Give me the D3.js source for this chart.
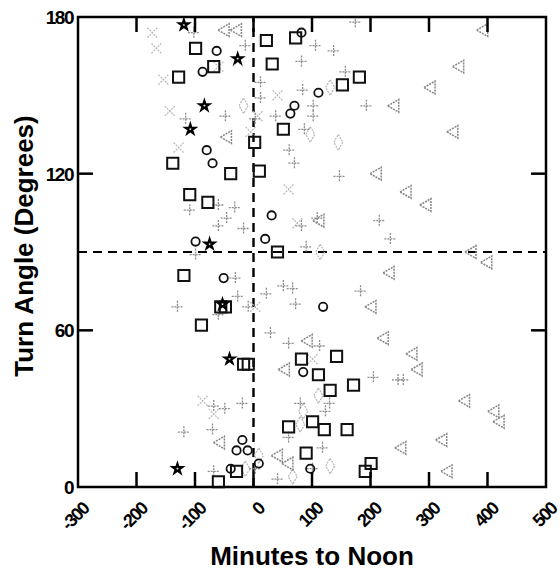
<!DOCTYPE html>
<html>
<head>
<meta charset="utf-8">
<script src="https://cdn.jsdelivr.net/npm/d3@7"></script>
<style>
  body { margin: 0; background: #fff; }
  text { font-family: "Liberation Sans", Arial, sans-serif; font-weight: bold; fill: #000; }
</style>
</head>
<body>
<script>
// chart size
var w = 560, h = 577;
var margin = { left: 78, right: 14, top: 17, bottom: 90 };

// axis ticks
var xTicks = [-300, -200, -100, 0, 100, 200, 300, 400, 500];
var yTicks = [0, 60, 120, 180];

// series values [minutes, degrees]
var squares = [[22,171],[32,162],[72,172],[152,154],[181,157],[51,137],[-99,168],[-68,161],[-128,157],
  [-138,124],[-39,120],[2,132],[10,121],[-109,112],[-78,109],[41,90],[-119,81],[-89,62],[-56,69],[-48,69],
  [-17,47],[-9,47],[-60,2],[-29,6],[82,49],[142,50],[111,43],[171,39],[131,37],[60,23],[101,25],[121,22],
  [160,22],[90,13],[201,9],[191,6]];
var circles = [[-87,159],[-63,167],[82,174],[111,151],[63,143],[70,146],[-80,129],[-70,124],[-99,94],
  [20,95],[31,104],[-51,80],[119,69],[-19,18],[-29,14],[-10,14],[-39,7],[97,7],[9,9],[85,44]];
var stars = [[-119,177],[-27,164],[-84,146],[-108,137],[-75,93],[-41,49],[-130,7],[-53,70]];
var triangles = [[394,175],[353,161],[304,153],[242,146],[343,136],[212,120],[263,113],[297,108],[374,90],
  [401,86],[234,82],[203,69],[224,57],[94,56],[273,51],[282,45],[363,33],[413,29],[422,25],[324,18],
  [254,15],[333,6],[55,45],[61,9],[-56,17],[43,12],[-48,175],[-27,175],[-44,134],[114,102]];
var pluses = [[174,178],[106,169],[137,167],[82,163],[157,159],[84,152],[102,146],[102,142],[193,146],
  [61,129],[70,124],[147,119],[87,137],[215,102],[234,95],[82,100],[109,103],[90,92],[183,75],[72,70],
  [51,77],[67,76],[60,55],[113,54],[38,142],[12,155],[12,149],[3,141],[-102,174],[-116,141],[-48,142],
  [-14,169],[-109,106],[-60,108],[-32,107],[-46,103],[-60,100],[-17,99],[-99,89],[-31,80],[-27,73],
  [-130,69],[-60,66],[-9,69],[22,74],[29,59],[-68,31],[-49,30],[-19,32],[-119,21],[-70,22],[-68,6],
  [3,7],[41,3],[118,15],[205,42],[247,41],[256,41],[130,32],[123,29],[80,32],[60,19],[101,7]];
var crosses = [[-173,174],[-166,168],[-154,156],[-143,144],[-128,130],[-60,161],[-27,163],[41,150],
  [60,114],[101,49],[7,142],[3,69],[-87,33],[-68,28],[75,101],[-5,136]];
var diamonds = [[131,153],[114,90],[145,132],[97,135],[111,35],[80,24],[131,8],[85,29],[67,4],
  [-14,7],[-17,146],[9,12]];

var svg = d3.select("body").append("svg")
  .attr("width", w)
  .attr("height", h);

var x = d3.scaleLinear().domain([-300, 500]).range([margin.left, w - margin.right]);
var y = d3.scaleLinear().domain([0, 180]).range([h - margin.bottom, margin.top]);

// reference lines at noon and 90 degrees
svg.append("line")
  .attr("x1", x(-300)).attr("x2", x(500))
  .attr("y1", y(90)).attr("y2", y(90))
  .style("stroke", "#000").style("stroke-width", 2.2)
  .style("stroke-dasharray", "9,6");
svg.append("line")
  .attr("x1", x(0)).attr("x2", x(0))
  .attr("y1", y(0)).attr("y2", y(180))
  .style("stroke", "#000").style("stroke-width", 2.4)
  .style("stroke-dasharray", "9,6");

// marker helpers
function place(d) { return "translate(" + x(d[0]) + "," + y(d[1]) + ")"; }

function drawSymbol(data, type, size, fill, stroke, sw, dash, rot) {
  svg.append("g").selectAll("path")
    .data(data)
    .enter()
    .append("path")
    .attr("d", d3.symbol().type(type).size(size))
    .attr("transform", function(d) { return place(d) + (rot ? " rotate(" + rot + ")" : ""); })
    .style("fill", fill)
    .style("stroke", stroke)
    .style("stroke-width", sw)
    .style("stroke-dasharray", dash || null);
}

// plus and x crosses are drawn as paths
function drawCross(data, r, angle, stroke, sw, dash) {
  svg.append("g").selectAll("path")
    .data(data)
    .enter()
    .append("path")
    .attr("d", "M" + (-r) + ",0H" + r + "M0," + (-r) + "V" + r)
    .attr("transform", function(d) { return place(d) + " rotate(" + angle + ")"; })
    .style("fill", "none")
    .style("stroke", stroke)
    .style("stroke-width", sw)
    .style("stroke-dasharray", dash);
}

drawCross(crosses, 7, 45, "#b8b8b8", 1.2, "2,1");
drawSymbol(diamonds, d3.symbolDiamond, 70, "none", "#b5b5b5", 1.2, "2,1");
drawCross(pluses, 6, 0, "#8c8c8c", 1.3, "2,1");
drawSymbol(triangles, d3.symbolTriangle, 70, "none", "#858585", 1.5, "2,1", -90);
drawSymbol(circles, d3.symbolCircle, 55, "none", "#111", 1.8);
drawSymbol(squares, d3.symbolSquare, 125, "none", "#111", 2);
drawSymbol(stars, d3.symbolStar, 28, "#fff", "#000", 2.2);

// frame
svg.append("rect")
  .attr("x", x(-300)).attr("y", y(180))
  .attr("width", x(500) - x(-300))
  .attr("height", y(0) - y(180))
  .style("fill", "none")
  .style("stroke", "#000")
  .style("stroke-width", 2.5);

// inward ticks
var tl = 15;
var xg = svg.append("g");
xTicks.slice(1, -1).forEach(function(t) {
  xg.append("line").attr("x1", x(t)).attr("x2", x(t)).attr("y1", y(0)).attr("y2", y(0) - tl);
  xg.append("line").attr("x1", x(t)).attr("x2", x(t)).attr("y1", y(180)).attr("y2", y(180) + tl);
});
yTicks.slice(1, -1).forEach(function(t) {
  xg.append("line").attr("x1", x(-300)).attr("x2", x(-300) + tl).attr("y1", y(t)).attr("y2", y(t));
  xg.append("line").attr("x1", x(500)).attr("x2", x(500) - tl).attr("y1", y(t)).attr("y2", y(t));
});
xg.selectAll("line").style("stroke", "#000").style("stroke-width", 2.5);

// tick labels
svg.append("g").selectAll("text")
  .data(xTicks)
  .enter()
  .append("text")
  .attr("transform", function(d) { return "translate(" + (x(d) + 12) + "," + (y(0) + 23) + ") rotate(-45)"; })
  .attr("text-anchor", "end")
  .style("font-size", "18px")
  .style("letter-spacing", "-1.5px")
  .text(function(d) { return d; });

svg.append("g").selectAll("text")
  .data(yTicks)
  .enter()
  .append("text")
  .attr("x", x(-300) - 5)
  .attr("y", function(d) { return y(d) + 7; })
  .attr("text-anchor", "end")
  .style("font-size", "19px")
  .style("letter-spacing", "-1.5px")
  .text(function(d) { return d; });

// axis titles
svg.append("text")
  .attr("x", (x(-300) + x(500)) / 2)
  .attr("y", 565)
  .attr("text-anchor", "middle")
  .style("font-size", "26px")
  .text("Minutes to Noon");

svg.append("text")
  .attr("transform", "translate(33,246) rotate(-90)")
  .attr("text-anchor", "middle")
  .style("font-size", "26px")
  .text("Turn Angle (Degrees)");
</script>
</body>
</html>
